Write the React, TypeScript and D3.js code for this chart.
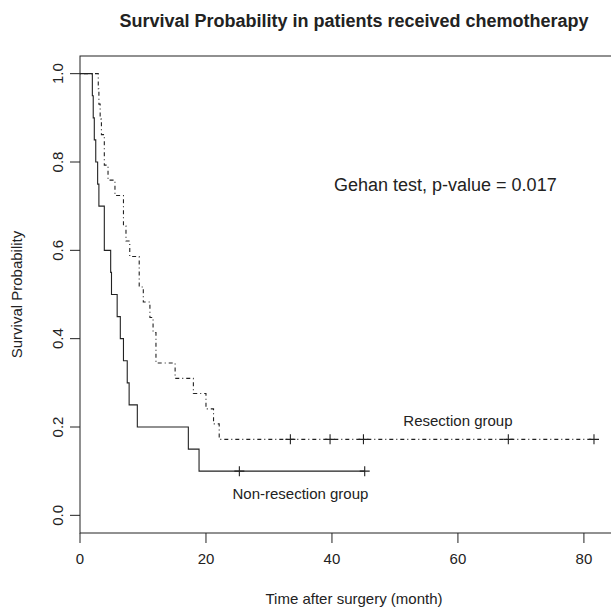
import React, { useEffect, useRef } from 'react';
import { scaleLinear, line, select, curveStepAfter } from 'd3';

// Kaplan-Meier steps (time in months, survival)
const nonResTime = [0, 1.96, 2.1, 2.27, 2.5, 2.8, 3.0, 3.86, 4.87, 5.0, 5.9, 6.4, 6.9, 7.5, 7.8, 9.1, 17.2, 18.9];
const nonResSurv = [1.0, 0.95, 0.9, 0.85, 0.8, 0.75, 0.7, 0.6, 0.55, 0.5, 0.45, 0.4, 0.35, 0.3, 0.25, 0.2, 0.15, 0.1];
const nonResCensor = [25.3, 45.2];

const resTime = [0, 2.9, 3.0, 3.2, 3.4, 3.86, 4.45, 5.55, 6.9, 7.3, 7.9, 9.4, 10.05, 11.1, 11.6, 12.06, 15.1, 18.0, 20.0, 21.2, 22.1];
const resSurv = [1.0, 0.966, 0.931, 0.897, 0.862, 0.793, 0.759, 0.724, 0.655, 0.621, 0.586, 0.517, 0.483, 0.448, 0.414, 0.345, 0.31, 0.276, 0.241, 0.207, 0.172];
const resCensor = [33.4, 39.7, 45.0, 68.0, 81.6];

const xTicks = [0, 20, 40, 60, 80];
const yTicks = [0, 0.2, 0.4, 0.6, 0.8, 1.0];

const title = 'Survival Probability in patients received chemotherapy';
const xTitle = 'Time after surgery (month)';
const yTitle = 'Survival Probability';
const testText = 'Gehan test, p-value = 0.017';
const resLabel = 'Resection group';
const nonResLabel = 'Non-resection group';

const App = () => {
    const chartRef = useRef<SVGSVGElement | null>(null);

    useEffect(() => {
        if (!chartRef.current) return;
        const svg = select(chartRef.current);
        svg.selectAll('*').remove();

        const width = 611;
        const height = 608;
        const box = { left: 80, right: 628, top: 56, bottom: 533 };
        const font = "'Liberation Sans', Arial, sans-serif";
        const ink = '#222';

        const x = scaleLinear().domain([0, 87]).range([box.left, box.right]);
        const y = scaleLinear().domain([-0.04, 1.04]).range([box.bottom, box.top]);

        svg.attr('width', width).attr('height', height);

        svg.append('rect')
            .attr('width', width)
            .attr('height', height)
            .attr('fill', '#fff');

        // plot box
        svg.append('rect')
            .attr('x', box.left)
            .attr('y', box.top)
            .attr('width', box.right - box.left)
            .attr('height', box.bottom - box.top)
            .attr('fill', 'none')
            .attr('stroke', ink)
            .attr('stroke-width', 1);

        // x axis
        xTicks.forEach(t => {
            svg.append('line')
                .attr('x1', x(t)).attr('x2', x(t))
                .attr('y1', box.bottom).attr('y2', box.bottom + 10)
                .attr('stroke', ink);
            svg.append('text')
                .text(t)
                .attr('x', x(t))
                .attr('y', box.bottom + 31)
                .attr('text-anchor', 'middle')
                .attr('font-family', font)
                .attr('font-size', 15)
                .attr('fill', ink);
        });

        // y axis
        yTicks.forEach(v => {
            svg.append('line')
                .attr('x1', box.left - 10).attr('x2', box.left)
                .attr('y1', y(v)).attr('y2', y(v))
                .attr('stroke', ink);
            svg.append('text')
                .text(v.toFixed(1))
                .attr('transform', `translate(${box.left - 17},${y(v)}) rotate(-90)`)
                .attr('text-anchor', 'middle')
                .attr('font-family', font)
                .attr('font-size', 15)
                .attr('fill', ink);
        });

        // survival curves
        const stepLine = line<[number, number]>()
            .x(d => x(d[0]))
            .y(d => y(d[1]))
            .curve(curveStepAfter);

        const nonResPts: [number, number][] = nonResTime.map((t, i) => [t, nonResSurv[i]]);
        nonResPts.push([nonResCensor[nonResCensor.length - 1], nonResSurv[nonResSurv.length - 1]]);
        const resPts: [number, number][] = resTime.map((t, i) => [t, resSurv[i]]);
        resPts.push([resCensor[resCensor.length - 1], resSurv[resSurv.length - 1]]);

        svg.append('path')
            .datum(nonResPts)
            .attr('fill', 'none')
            .attr('stroke', ink)
            .attr('stroke-width', 1.1)
            .attr('d', stepLine);

        svg.append('path')
            .datum(resPts)
            .attr('fill', 'none')
            .attr('stroke', ink)
            .attr('stroke-width', 1.1)
            .attr('stroke-dasharray', '1,3,4,3')
            .attr('d', stepLine);

        // censor marks
        const plus = (t: number, v: number) => {
            svg.append('path')
                .attr('d', `M${x(t) - 5},${y(v)}H${x(t) + 5}M${x(t)},${y(v) - 5}V${y(v) + 5}`)
                .attr('stroke', ink)
                .attr('stroke-width', 1.1)
                .attr('fill', 'none');
        };
        nonResCensor.forEach(t => plus(t, nonResSurv[nonResSurv.length - 1]));
        resCensor.forEach(t => plus(t, resSurv[resSurv.length - 1]));

        // annotations
        const label = (s: string, t: number, v: number, size: number) => {
            svg.append('text')
                .text(s)
                .attr('x', x(t))
                .attr('y', y(v) + size * 0.36)
                .attr('text-anchor', 'middle')
                .attr('font-family', font)
                .attr('font-size', size)
                .attr('fill', ink);
        };
        label(testText, 58, 0.75, 18);
        label(resLabel, 60, 0.215, 15);
        label(nonResLabel, 35, 0.05, 15);

        // titles
        svg.append('text')
            .text(title)
            .attr('x', (box.left + box.right) / 2)
            .attr('y', 27)
            .attr('text-anchor', 'middle')
            .attr('font-family', font)
            .attr('font-weight', 'bold')
            .attr('font-size', 18)
            .attr('fill', ink);

        svg.append('text')
            .text(xTitle)
            .attr('x', (box.left + box.right) / 2)
            .attr('y', box.bottom + 71)
            .attr('text-anchor', 'middle')
            .attr('font-family', font)
            .attr('font-size', 15)
            .attr('fill', ink);

        svg.append('text')
            .text(yTitle)
            .attr('transform', `translate(${box.left - 58},${(box.top + box.bottom) / 2}) rotate(-90)`)
            .attr('text-anchor', 'middle')
            .attr('font-family', font)
            .attr('font-size', 15)
            .attr('fill', ink);
    }, []);

    return <svg ref={chartRef} width="611" height="608" style={{ position: 'absolute', left: 0, top: 0 }}></svg>;
};

export default App;
